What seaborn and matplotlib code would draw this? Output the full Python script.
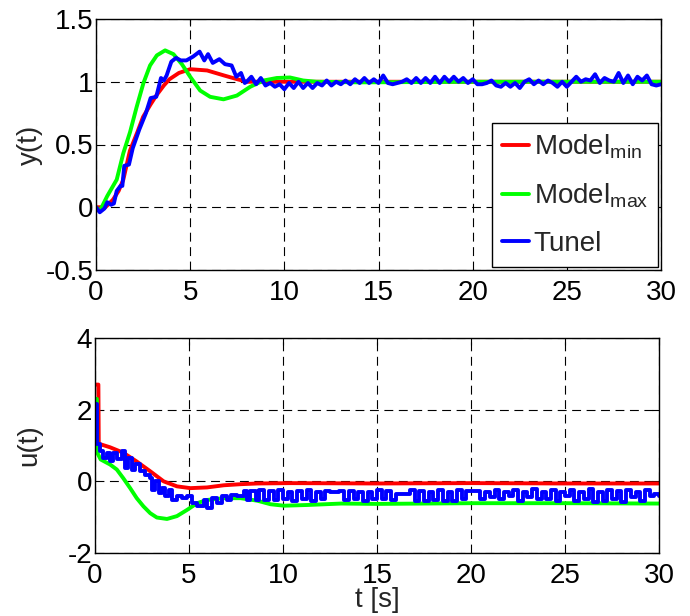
import numpy as np
import pandas as pd
import matplotlib
matplotlib.use("Agg")
import matplotlib.pyplot as plt
import seaborn as sns

# ---------------- data ----------------
# top panel: y(t)
t_ymin = [0, 0.5, 0.9, 1.2, 1.45, 1.8, 2.2, 2.5, 2.9, 3.2, 3.6, 3.9, 4.4, 5.0,
          5.9, 6.8, 7.5, 8.0, 9.0, 12.0, 20.0, 30.0]
y_min = [0.0, 0.0, 0.06, 0.13, 0.22, 0.45, 0.6, 0.72, 0.82, 0.89, 0.97, 1.02, 1.07, 1.1,
         1.09, 1.05, 1.02, 1.0, 1.0, 1.0, 1.0, 1.0]

t_ymax = [0, 0.2, 0.6, 1.1, 1.45, 1.81, 2.16, 2.52, 2.87, 3.23, 3.67, 4.11, 4.56, 5.0,
          5.53, 6.06, 6.77, 7.48, 8.19, 8.9, 9.6, 10.3, 11.0, 11.7, 14.0, 20.0, 30.0]
y_max = [0.0, -0.03, 0.09, 0.22, 0.43, 0.6, 0.8, 0.99, 1.13, 1.21, 1.25, 1.22, 1.14, 1.04,
         0.93, 0.88, 0.86, 0.89, 0.96, 1.01, 1.03, 1.034, 1.01, 1.0, 0.995, 1.0, 1.0]

t_ytun_head = [0, 0.2, 0.45, 0.6, 0.8, 0.95, 1.1, 1.3, 1.4, 1.5, 1.75, 1.95, 2.3, 2.65,
               2.9, 3.2, 3.45, 3.6, 3.75, 4.0, 4.25, 4.5, 4.8, 5.15, 5.5, 5.75, 5.95,
               6.2, 6.55, 6.85, 7.2, 7.45, 7.7, 7.9]
y_tun_head = [0.0, -0.04, -0.01, 0.04, 0.02, 0.03, 0.13, 0.17, 0.17, 0.33, 0.34, 0.47, 0.62,
              0.75, 0.87, 0.88, 1.03, 1.01, 1.05, 1.16, 1.19, 1.17, 1.17, 1.2, 1.24, 1.17,
              1.22, 1.15, 1.18, 1.14, 1.13, 1.04, 1.07, 0.99]
t_ytun_tail = np.arange(8.0, 30.001, 0.25)
y_tun_tail = [1.0, 1.04, 0.98, 1.03, 0.97, 0.99, 0.96, 0.98, 0.94, 0.99, 0.95, 1.0,
              0.95, 0.99, 0.95, 0.99, 0.97, 1.01, 0.97, 1.0, 0.98, 1.01, 0.98, 1.02,
              0.99, 1.03, 0.99, 1.02, 0.99, 1.05, 0.99, 0.98, 0.99, 1.0, 1.02, 0.99,
              1.03, 0.99, 1.03, 0.99, 1.04, 0.99, 1.04, 1.0, 1.04, 1.0, 1.03, 0.99,
              1.02, 0.98, 0.98, 0.99, 1.01, 0.97, 0.96, 0.99, 0.96, 0.99, 0.95, 1.0,
              1.02, 0.98, 1.01, 0.98, 1.01, 0.99, 0.96, 1.0, 0.96, 1.0, 1.04, 1.0,
              1.02, 1.01, 1.06, 0.99, 1.03, 1.01, 1.0, 1.07, 0.99, 1.05, 0.98, 1.04,
              1.01, 1.05, 0.98, 0.97, 0.98]

# bottom panel: u(t)
t_umin = [0, 0.18, 0.2, 0.8, 1.5, 2.2, 2.94, 3.65, 4.36, 5.07, 5.96, 6.85, 7.74, 8.63,
          10.4, 15.0, 20.0, 25.0, 30.0]
u_min = [2.7, 2.7, 1.05, 0.95, 0.8, 0.56, 0.28, 0.0, -0.14, -0.19, -0.17, -0.11, -0.08,
         -0.06, -0.05, -0.06, -0.05, -0.06, -0.06]

t_umax = [0, 0.1, 0.12, 0.3, 0.8, 1.16, 1.5, 1.87, 2.22, 2.58, 2.94, 3.29, 3.83, 4.36,
          4.89, 5.43, 5.96, 6.85, 7.74, 8.63, 9.34, 10.05, 11.3, 13.1, 15.0, 20.0, 25.0, 30.0]
u_max = [2.3, 2.3, 0.8, 0.61, 0.47, 0.33, 0.09, -0.19, -0.47, -0.7, -0.89, -1.01, -1.05,
         -0.97, -0.8, -0.61, -0.52, -0.47, -0.47, -0.54, -0.64, -0.68, -0.66, -0.62,
         -0.63, -0.61, -0.61, -0.62]

t_utun_head = [0, 0.09, 0.27, 0.44, 0.62, 0.8, 0.98, 1.16, 1.42, 1.6, 1.78, 1.96, 2.14,
               2.4, 2.67, 2.94, 3.02, 3.2, 3.38, 3.56, 3.74, 3.91, 4.09, 4.36, 4.63, 4.89,
               5.16, 5.43, 5.78, 5.96, 6.23, 6.49, 6.76, 7.03, 7.21, 7.56, 7.92, 8.1, 8.27,
               8.54, 8.72, 8.99]
u_tun_head = [2.16, 1.03, 0.85, 0.66, 0.8, 0.56, 0.8, 0.61, 0.85, 0.38, 0.66, 0.33, 0.47,
              0.28, 0.19, 0.09, -0.23, 0.0, -0.33, -0.19, -0.42, -0.23, -0.52, -0.42, -0.47,
              -0.42, -0.61, -0.7, -0.52, -0.75, -0.47, -0.61, -0.42, -0.52, -0.38, -0.42,
              -0.28, -0.52, -0.28, -0.52, -0.23, -0.52]
t_utun_tail = np.arange(9.25, 30.001, 0.25)
u_tun_tail = [-0.28, -0.52, -0.25, -0.5, -0.3, -0.55, -0.28, -0.5, -0.25, -0.55, -0.3,
              -0.5, -0.28, -0.3, -0.3, -0.28, -0.52, -0.28, -0.5, -0.3, -0.55, -0.3,
              -0.5, -0.25, -0.5, -0.28, -0.52, -0.35, -0.35, -0.35, -0.25, -0.55, -0.28,
              -0.55, -0.3, -0.52, -0.25, -0.55, -0.3, -0.55, -0.25, -0.5, -0.28, -0.28,
              -0.28, -0.5, -0.3, -0.45, -0.25, -0.5, -0.3, -0.42, -0.25, -0.55, -0.3,
              -0.45, -0.22, -0.5, -0.3, -0.48, -0.25, -0.55, -0.3, -0.4, -0.25, -0.55,
              -0.3, -0.5, -0.2, -0.58, -0.3, -0.55, -0.25, -0.5, -0.28, -0.58, -0.25,
              -0.45, -0.3, -0.55, -0.25, -0.42, -0.35, -0.4]

x_ticks = [0, 5, 10, 15, 20, 25, 30]
y_ticks_top = [-0.5, 0, 0.5, 1, 1.5]
y_ticklabels_top = ["-0.5", "0", "0.5", "1", "1.5"]
y_ticks_bot = [-2, 0, 2, 4]
y_ticklabels_bot = ["-2", "0", "2", "4"]
labels = ["Model$_{min}$", "Model$_{max}$", "Tunel"]
colors = ["#ff0000", "#00ff00", "#0000ff"]

# ---------------- style ----------------
sns.set_style("white")
plt.rcParams["font.family"] = ["Liberation Sans", "DejaVu Sans"]
plt.rcParams["mathtext.default"] = "regular"
FS = 20

fig = plt.figure(figsize=(6.9, 6.16), dpi=100)
ax1 = fig.add_axes([96 / 690, 1 - 270 / 616, (661 - 96) / 690, (270 - 19) / 616])
ax2 = fig.add_axes([95 / 690, 1 - 553 / 616, (659 - 95) / 690, (553 - 338) / 616])

lw = 2.8
df_ymin = pd.DataFrame({"t": t_ymin, "v": y_min})
df_ymax = pd.DataFrame({"t": t_ymax, "v": y_max})
df_ytun = pd.DataFrame({"t": list(t_ytun_head) + list(t_ytun_tail),
                        "v": list(y_tun_head) + list(y_tun_tail)})
sns.lineplot(data=df_ymin, x="t", y="v", ax=ax1, color=colors[0], lw=lw,
             estimator=None, sort=False, label=labels[0])
sns.lineplot(data=df_ymax, x="t", y="v", ax=ax1, color=colors[1], lw=lw,
             estimator=None, sort=False, label=labels[1])
sns.lineplot(data=df_ytun, x="t", y="v", ax=ax1, color=colors[2], lw=lw,
             estimator=None, sort=False, label=labels[2])

df_umin = pd.DataFrame({"t": t_umin, "v": u_min})
df_umax = pd.DataFrame({"t": t_umax, "v": u_max})
df_utun = pd.DataFrame({"t": list(t_utun_head) + list(t_utun_tail),
                        "v": list(u_tun_head) + list(u_tun_tail)})
sns.lineplot(data=df_umin, x="t", y="v", ax=ax2, color=colors[0], lw=lw,
             estimator=None, sort=False, legend=False)
sns.lineplot(data=df_umax, x="t", y="v", ax=ax2, color=colors[1], lw=lw,
             estimator=None, sort=False, legend=False)
sns.lineplot(data=df_utun, x="t", y="v", ax=ax2, color=colors[2], lw=lw,
             estimator=None, sort=False, legend=False, drawstyle="steps-post")

for ax in (ax1, ax2):
    ax.set_xlim(0, 30)
    ax.set_xticks(x_ticks)
    ax.set_xticklabels([str(x) for x in x_ticks])
    ax.grid(True, color="black", linestyle=(0, (8, 5)), linewidth=0.8)
    ax.tick_params(direction="in", length=5, width=0.8, top=True, right=True,
                   labelsize=FS, colors="black")
    ax.tick_params(axis="y", pad=2)
    ax.tick_params(axis="x", pad=7)
    for s in ax.spines.values():
        s.set_color("black")
        s.set_linewidth(1.0)
    ax.set_xlabel("")
    ax.set_ylabel("")

ax1.set_ylim(-0.5, 1.5)
ax1.set_yticks(y_ticks_top)
ax1.set_yticklabels(y_ticklabels_top)
ax2.set_ylim(-2, 4)
ax2.set_yticks(y_ticks_bot)
ax2.set_yticklabels(y_ticklabels_bot)

ax1.set_ylabel("y(t)", fontsize=FS)
ax2.set_ylabel("u(t)", fontsize=FS)
ax2.set_xlabel("t [s]", fontsize=FS, labelpad=-1)
ax1.yaxis.set_label_coords(-0.094, 0.5)
ax2.yaxis.set_label_coords(-0.094, 0.5)

leg = ax1.legend(loc="lower right", fontsize=FS, frameon=True, fancybox=False,
                 edgecolor="black", framealpha=1, handlelength=1.0,
                 handletextpad=0.15, labelspacing=0.75, borderpad=0.35,
                 borderaxespad=0.12)
leg.get_frame().set_linewidth(1.0)

fig.savefig("out.png", dpi=100)
